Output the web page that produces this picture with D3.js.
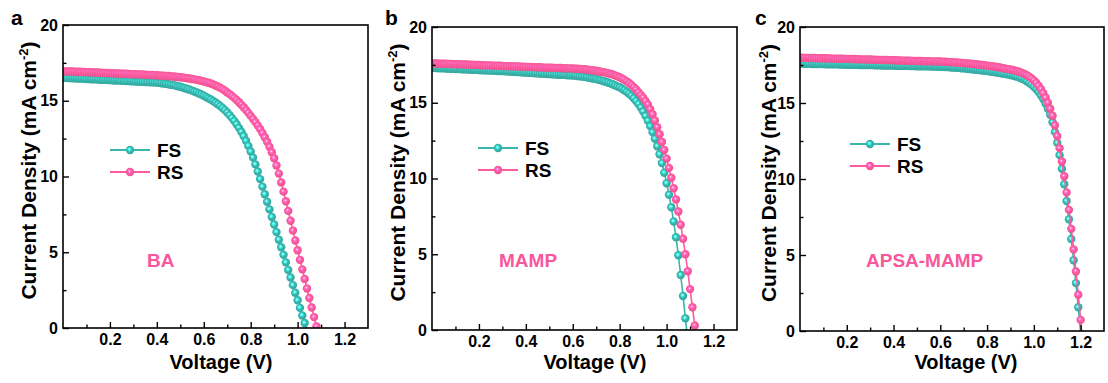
<!DOCTYPE html>
<html>
<head>
<meta charset="utf-8">
<script src="https://cdn.jsdelivr.net/npm/d3@7"></script>
<style>
  body { margin: 0; background: #fff; }
  svg { display: block; }
  text { font-family: "Liberation Sans", Arial, sans-serif; font-weight: bold; fill: #000; }
</style>
</head>
<body>
<svg id="chart" width="1108" height="383"></svg>
<script>
// Voltage sweep points (V)
const voltage = [
  0.00,0.01,0.02,0.03,0.04,0.05,0.06,0.07,0.08,0.09,
  0.10,0.11,0.12,0.13,0.14,0.15,0.16,0.17,0.18,0.19,
  0.20,0.21,0.22,0.23,0.24,0.25,0.26,0.27,0.28,0.29,
  0.30,0.31,0.32,0.33,0.34,0.35,0.36,0.37,0.38,0.39,
  0.40,0.41,0.42,0.43,0.44,0.45,0.46,0.47,0.48,0.49,
  0.50,0.51,0.52,0.53,0.54,0.55,0.56,0.57,0.58,0.59,
  0.60,0.61,0.62,0.63,0.64,0.65,0.66,0.67,0.68,0.69,
  0.70,0.71,0.72,0.73,0.74,0.75,0.76,0.77,0.78,0.79,
  0.80,0.81,0.82,0.83,0.84,0.85,0.86,0.87,0.88,0.89,
  0.90,0.91,0.92,0.93,0.94,0.95,0.96,0.97,0.98,0.99,
  1.00,1.01,1.02,1.03,1.04,1.05,1.06,1.07,1.08,1.09,
  1.10,1.11,1.12,1.13,1.14,1.15,1.16,1.17,1.18,1.19,
  1.20,1.21
];

// Current density (mA cm^-2), BA device
const baFS = [
  16.52,16.51,16.50,16.50,16.49,16.48,16.47,16.46,16.46,16.45,
  16.44,16.43,16.42,16.42,16.41,16.40,16.39,16.38,16.38,16.37,
  16.36,16.35,16.34,16.34,16.33,16.32,16.31,16.30,16.30,16.29,
  16.28,16.27,16.26,16.26,16.25,16.24,16.23,16.22,16.22,16.21,
  16.20,16.18,16.16,16.14,16.12,16.09,16.06,16.03,16.00,15.96,
  15.92,15.88,15.83,15.78,15.73,15.67,15.61,15.55,15.48,15.41,
  15.33,15.25,15.17,15.08,14.98,14.88,14.77,14.65,14.52,14.38,
  14.22,14.05,13.87,13.67,13.45,13.21,12.95,12.67,12.36,12.02,
  11.65,11.25,10.80,10.33,9.83,9.33,8.83,8.33,7.83,7.33,
  6.83,6.33,5.83,5.33,4.83,4.33,3.83,3.33,2.83,2.33,
  1.83,1.33,0.83,0.33,-0.17
];
const baRS = [
  16.95,16.94,16.94,16.93,16.93,16.92,16.91,16.91,16.90,16.90,
  16.89,16.88,16.88,16.87,16.86,16.86,16.85,16.84,16.84,16.83,
  16.82,16.82,16.81,16.80,16.80,16.79,16.78,16.78,16.77,16.76,
  16.76,16.75,16.74,16.74,16.73,16.72,16.71,16.71,16.70,16.69,
  16.68,16.67,16.66,16.65,16.64,16.63,16.61,16.60,16.58,16.57,
  16.55,16.53,16.51,16.49,16.47,16.44,16.41,16.38,16.35,16.31,
  16.27,16.23,16.19,16.14,16.08,16.01,15.94,15.86,15.77,15.67,
  15.55,15.44,15.32,15.19,15.05,14.90,14.74,14.57,14.39,14.20,
  14.00,13.80,13.59,13.37,13.13,12.87,12.59,12.29,11.96,11.60,
  11.21,10.73,10.19,9.61,9.00,8.37,7.73,7.08,6.43,5.78,
  5.13,4.50,3.87,3.24,2.61,1.98,1.35,0.72,0.10,-0.53
];

// MAMP device
const mampFS = [
  17.30,17.29,17.29,17.28,17.27,17.27,17.26,17.25,17.24,17.24,
  17.23,17.22,17.22,17.21,17.20,17.20,17.19,17.18,17.17,17.17,
  17.16,17.15,17.15,17.14,17.13,17.12,17.12,17.11,17.10,17.09,
  17.09,17.08,17.07,17.06,17.05,17.04,17.03,17.02,17.01,17.00,
  16.99,16.98,16.97,16.96,16.95,16.94,16.93,16.92,16.91,16.90,
  16.89,16.88,16.87,16.86,16.85,16.85,16.84,16.83,16.82,16.81,
  16.80,16.79,16.77,16.75,16.73,16.71,16.68,16.65,16.62,16.59,
  16.56,16.52,16.48,16.44,16.39,16.34,16.28,16.22,16.15,16.08,
  16.02,15.93,15.83,15.72,15.60,15.46,15.30,15.12,14.92,14.69,
  14.43,14.14,13.82,13.46,13.06,12.62,12.13,11.60,11.02,10.38,
  9.69,8.93,8.10,7.16,6.12,4.93,3.63,2.25,0.77,-0.70
];
const mampRS = [
  17.60,17.59,17.59,17.58,17.58,17.57,17.57,17.56,17.56,17.55,
  17.54,17.54,17.53,17.53,17.52,17.52,17.51,17.51,17.50,17.49,
  17.49,17.48,17.48,17.47,17.47,17.46,17.45,17.45,17.44,17.44,
  17.43,17.42,17.42,17.41,17.41,17.40,17.40,17.39,17.38,17.38,
  17.37,17.37,17.36,17.35,17.35,17.34,17.34,17.33,17.32,17.32,
  17.31,17.31,17.30,17.30,17.29,17.29,17.28,17.28,17.27,17.27,
  17.26,17.25,17.24,17.23,17.22,17.21,17.19,17.17,17.15,17.13,
  17.11,17.08,17.05,17.02,16.99,16.95,16.91,16.86,16.81,16.75,
  16.68,16.60,16.51,16.41,16.30,16.18,16.03,15.87,15.70,15.52,
  15.33,15.12,14.88,14.58,14.24,13.83,13.39,12.92,12.42,11.88,
  11.31,10.70,10.05,9.36,8.62,7.82,6.95,6.02,5.00,3.88,
  2.70,1.50,0.30,-0.90
];

// APSA-MAMP device
const apsaFS = [
  17.59,17.59,17.58,17.58,17.58,17.57,17.57,17.57,17.56,17.56,
  17.56,17.55,17.55,17.55,17.54,17.54,17.54,17.53,17.53,17.53,
  17.52,17.52,17.52,17.51,17.51,17.51,17.50,17.50,17.50,17.49,
  17.49,17.49,17.48,17.48,17.48,17.47,17.47,17.47,17.46,17.46,
  17.46,17.45,17.45,17.45,17.44,17.44,17.44,17.43,17.43,17.43,
  17.42,17.42,17.42,17.41,17.41,17.41,17.40,17.40,17.40,17.39,
  17.39,17.38,17.37,17.36,17.35,17.34,17.33,17.32,17.31,17.29,
  17.28,17.26,17.24,17.23,17.21,17.19,17.18,17.16,17.14,17.12,
  17.10,17.08,17.06,17.04,17.01,16.99,16.96,16.93,16.90,16.87,
  16.84,16.80,16.76,16.72,16.66,16.60,16.52,16.43,16.33,16.21,
  16.07,15.92,15.73,15.51,15.26,14.97,14.62,14.23,13.73,13.10,
  12.38,11.57,10.67,9.65,8.55,7.35,6.05,4.65,3.15,1.56,
  -0.11
];
const apsaRS = [
  17.98,17.98,17.97,17.97,17.96,17.96,17.96,17.95,17.95,17.94,
  17.94,17.94,17.93,17.93,17.92,17.92,17.92,17.91,17.91,17.90,
  17.90,17.90,17.89,17.89,17.88,17.88,17.87,17.87,17.87,17.86,
  17.86,17.85,17.85,17.84,17.84,17.84,17.83,17.83,17.82,17.82,
  17.81,17.81,17.80,17.80,17.79,17.79,17.78,17.78,17.77,17.77,
  17.76,17.76,17.76,17.75,17.75,17.75,17.74,17.74,17.74,17.73,
  17.73,17.72,17.71,17.70,17.69,17.68,17.67,17.66,17.65,17.64,
  17.62,17.61,17.60,17.58,17.57,17.55,17.53,17.52,17.50,17.48,
  17.46,17.44,17.42,17.40,17.37,17.35,17.32,17.29,17.26,17.23,
  17.20,17.17,17.13,17.09,17.04,16.98,16.91,16.83,16.73,16.62,
  16.49,16.33,16.14,15.92,15.66,15.36,15.02,14.62,14.16,13.54,
  12.83,12.03,11.15,10.18,9.12,7.97,6.72,5.37,3.92,2.38,
  0.73,-0.95
];

// Axis ticks and labels
const xTickValues = [0.2, 0.4, 0.6, 0.8, 1.0, 1.2];
const xMinorValues = [0.1, 0.3, 0.5, 0.7, 0.9, 1.1];
const yTickValues = [0, 5, 10, 15, 20];
const yMinorValues = [2.5, 7.5, 12.5, 17.5];
const xDomain = [0, 1.3];
const yDomain = [0, 20];

const seriesNames = ["FS", "RS"];
const sampleNames = ["BA", "MAMP", "APSA-MAMP"];
const panelLetters = ["a", "b", "c"];
const panelSeries = [[baFS, baRS], [mampFS, mampRS], [apsaFS, apsaRS]];

const colors = { FS: "#38b6ae", RS: "#ff5a9e" };
const labelPink = "#f8579c";

// Per-panel placement
const layout = [
  { left: 63,  right: 368,  top: 25, bottom: 328, letterX: 11,  yTitleX: 36,  xTitleX: 221, legX: 110, legY: 150, nameX: 147 },
  { left: 432, right: 737,  top: 27, bottom: 330, letterX: 385, yTitleX: 405, xTitleX: 595, legX: 478, legY: 148, nameX: 499 },
  { left: 800, right: 1104, top: 27, bottom: 331, letterX: 755, yTitleX: 776, xTitleX: 966, legX: 850, legY: 144, nameX: 866 }
];

const svg = d3.select("#chart");
const defs = svg.append("defs");

// Shaded sphere look for the scatter symbols
seriesNames.forEach(name => {
  const base = d3.color(colors[name]);
  const grad = defs.append("radialGradient")
    .attr("id", "ball-" + name)
    .attr("cx", "45%").attr("cy", "45%").attr("r", "60%")
    .attr("fx", "42%").attr("fy", "40%");
  grad.append("stop").attr("offset", "0%").attr("stop-color", "#ffffff");
  grad.append("stop").attr("offset", "20%").attr("stop-color", base.brighter(0.9));
  grad.append("stop").attr("offset", "50%").attr("stop-color", base);
  grad.append("stop").attr("offset", "100%").attr("stop-color", base.darker(0.3));
});

const R = 4.2;

layout.forEach((L, i) => {
  const g = svg.append("g");
  const x = d3.scaleLinear().domain(xDomain).range([L.left, L.right]);
  const y = d3.scaleLinear().domain(yDomain).range([L.bottom, L.top]);

  const clipId = "clip-" + i;
  defs.append("clipPath").attr("id", clipId)
    .append("rect")
    .attr("x", L.left).attr("y", L.top)
    .attr("width", L.right - L.left).attr("height", L.bottom - L.top);

  // curves
  const line = d3.line().x(d => x(d[0])).y(d => y(d[1]));
  const plot = g.append("g").attr("clip-path", `url(#${clipId})`);
  panelSeries[i].forEach((values, s) => {
    const name = seriesNames[s];
    const pts = values.map((j, k) => [voltage[k], j]);
    plot.append("path")
      .attr("d", line(pts))
      .attr("fill", "none")
      .attr("stroke", colors[name])
      .attr("stroke-width", 1.6);
    plot.append("g").selectAll("circle")
      .data(pts.filter(d => d[1] >= 0))
      .join("circle")
      .attr("cx", d => x(d[0]))
      .attr("cy", d => y(d[1]))
      .attr("r", R)
      .attr("fill", `url(#ball-${name})`);
  });

  // axes with inward ticks
  const xAxis = g.append("g").attr("transform", `translate(0,${L.bottom})`)
    .call(d3.axisBottom(x).tickValues(xTickValues).tickSize(-6).tickPadding(6)
      .tickFormat(d3.format(".1f")));
  const xMinor = g.append("g").attr("transform", `translate(0,${L.bottom})`)
    .call(d3.axisBottom(x).tickValues(xMinorValues).tickSize(-3.5).tickFormat(""));
  const yAxis = g.append("g").attr("transform", `translate(${L.left},0)`)
    .call(d3.axisLeft(y).tickValues(yTickValues).tickSize(-6).tickPadding(5)
      .tickFormat(d3.format("d")));
  const yMinor = g.append("g").attr("transform", `translate(${L.left},0)`)
    .call(d3.axisLeft(y).tickValues(yMinorValues).tickSize(-3.5).tickFormat(""));

  [xAxis, xMinor, yAxis, yMinor].forEach(a => {
    a.select(".domain").remove();
    a.selectAll(".tick line").attr("stroke", "#000").attr("stroke-width", 1.4);
    a.selectAll(".tick text")
      .attr("font-family", '"Liberation Sans", Arial, sans-serif')
      .attr("font-weight", "bold")
      .attr("font-size", 16)
      .attr("fill", "#000");
  });

  // frame
  g.append("rect")
    .attr("x", L.left).attr("y", L.top)
    .attr("width", L.right - L.left).attr("height", L.bottom - L.top)
    .attr("fill", "none").attr("stroke", "#000").attr("stroke-width", 1.6);

  // axis titles
  g.append("text")
    .attr("x", L.xTitleX).attr("y", 369)
    .attr("text-anchor", "middle")
    .attr("font-size", 20)
    .text("Voltage (V)");

  const yt = g.append("text")
    .attr("transform", `translate(${L.yTitleX},${(L.top + L.bottom) / 2 - 6}) rotate(-90)`)
    .attr("text-anchor", "middle")
    .attr("font-size", 21);
  yt.append("tspan").text("Current Density (mA cm");
  yt.append("tspan").attr("font-size", 13).attr("dy", -8).text("-2");
  yt.append("tspan").attr("dy", 8).text(")");

  // panel letter
  g.append("text")
    .attr("x", L.letterX).attr("y", 25)
    .attr("font-size", 21)
    .text(panelLetters[i]);

  // legend
  seriesNames.forEach((name, s) => {
    const ly = L.legY + s * 22;
    g.append("line")
      .attr("x1", L.legX).attr("x2", L.legX + 40)
      .attr("y1", ly).attr("y2", ly)
      .attr("stroke", colors[name]).attr("stroke-width", 1.8);
    g.append("circle")
      .attr("cx", L.legX + 20).attr("cy", ly).attr("r", R)
      .attr("fill", `url(#ball-${name})`);
    g.append("text")
      .attr("x", L.legX + 47).attr("y", ly + 7)
      .attr("font-size", 19)
      .text(name);
  });

  // sample name
  g.append("text")
    .attr("x", L.nameX).attr("y", 266.5)
    .attr("font-size", 19)
    .style("fill", labelPink)
    .text(sampleNames[i]);
});
</script>
</body>
</html>
